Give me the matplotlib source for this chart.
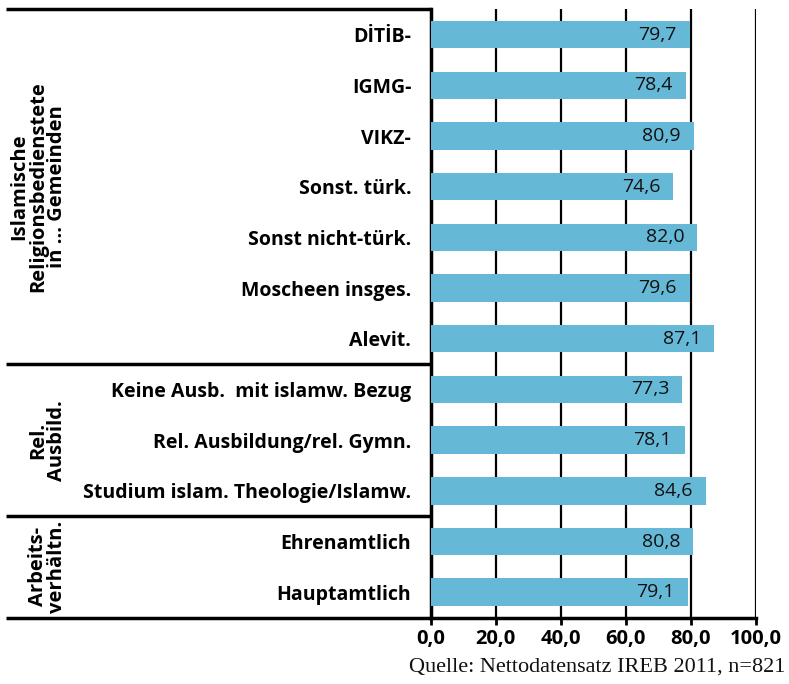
import matplotlib
matplotlib.use("Agg")
import matplotlib.pyplot as plt
from matplotlib.transforms import blended_transform_factory

categories = ["DİTİB-", "IGMG-", "VIKZ-", "Sonst. türk.", "Sonst nicht-türk.",
              "Moscheen insges.", "Alevit.", "Keine Ausb.  mit islamw. Bezug",
              "Rel. Ausbildung/rel. Gymn.", "Studium islam. Theologie/Islamw.",
              "Ehrenamtlich", "Hauptamtlich"]
values = [79.7, 78.4, 80.9, 74.6, 82.0, 79.6, 87.1, 77.3, 78.1, 84.6, 80.8, 79.1]
groups = ["Islamische\nReligionsbedienstete\nin ... Gemeinden", "Rel.\nAusbild.", "Arbeits-\nverhältn."]
group_bounds = [(-0.5, 6.5), (6.5, 9.5), (9.5, 11.5)]
xticks = [0, 20, 40, 60, 80, 100]

plt.rcParams['font.family'] = ['Open Sans', 'DejaVu Sans']

fig = plt.figure(figsize=(7.89, 6.84), dpi=100)
ax_left = 0.546
ax = fig.add_axes([ax_left, 0.0972, 0.412, 0.889])

ypos = list(range(len(values)))
ax.barh(ypos, values, height=0.54, color='#66b8d7', zorder=3)
for y, v in zip(ypos, values):
    ax.text(v - 4.0, y, f"{v:.1f}".replace('.', ','), ha='right', va='center',
            fontsize=14, color='#111111', zorder=4)

ax.set_xlim(0, 100)
ax.set_ylim(len(values) - 0.5, -0.5)
ax.set_yticks(ypos)
ax.set_yticklabels(categories, fontsize=14, fontweight='bold')
ax.set_xticks(xticks)
ax.set_xticklabels([f"{t:.1f}".replace('.', ',') for t in xticks], fontsize=14.5, fontweight='bold')
ax.tick_params(axis='y', length=0, pad=14)
ax.tick_params(axis='x', length=5, width=2, direction='out', pad=3)
ax.grid(axis='x', color='black', linewidth=1.6, zorder=1)
for s in ['top', 'right']:
    ax.spines[s].set_visible(False)
ax.spines['left'].set_linewidth(2.5)
ax.spines['bottom'].set_linewidth(2.5)

# group separators extending into the label area
trans = blended_transform_factory(fig.transFigure, ax.transData)
x0 = 6 / 789
for (top, bottom) in group_bounds:
    ax.plot([x0, ax_left], [top, top], color='black', lw=2.5, transform=trans,
            clip_on=False, solid_capstyle='butt')
ax.plot([x0, ax_left], [11.5, 11.5], color='black', lw=2.5, transform=trans,
        clip_on=False, solid_capstyle='butt')

for label, (top, bottom) in zip(groups, group_bounds):
    ax.text(67 / 789, (top + bottom) / 2, label, rotation=90, ha='right', va='center',
            multialignment='center', fontsize=14.5, fontweight='bold',
            transform=trans, linespacing=0.92)

fig.text(0.995, 0.025, "Quelle: Nettodatensatz IREB 2011, n=821", ha='right', va='center',
         fontsize=16, family=['Liberation Serif', 'DejaVu Serif'], color='#111111')

fig.savefig("out.png", dpi=100)
